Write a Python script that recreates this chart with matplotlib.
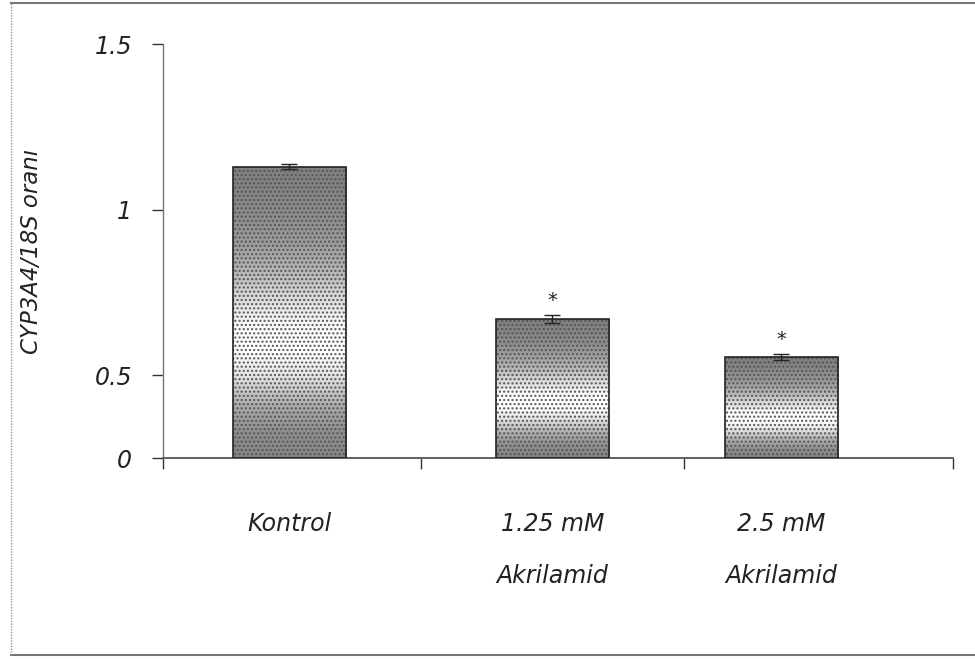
import numpy as np
import matplotlib
matplotlib.use("Agg")
import matplotlib.pyplot as plt
from matplotlib.patches import Rectangle
from matplotlib.lines import Line2D

# ── Données ────────────────────────────────────────────────
groupes = ['Kontrol', '1.25 mM\nAkrilamid', '2.5 mM\nAkrilamid']
valeurs = [1.13, 0.67, 0.555]
erreurs = [0.008, 0.012, 0.008]
etoiles = ['', '*', '*']
yticks = [0, 0.5, 1, 1.5]
ytick_labels = ['0', '0.5', '1', '1.5']

positions = [0, 1, 1.87]
largeur = 0.43

# échelle de l'original : zone 0-0.5 tassée de moitié
def vers_axe(y):
    y = np.asarray(y, dtype=float)
    return np.where(y >= 0.5, y, 0.5 - (0.5 - y) * 0.5)

def depuis_axe(t):
    t = np.asarray(t, dtype=float)
    return np.where(t >= 0.5, t, 0.5 - (0.5 - t) * 2.0)

plt.rcParams['font.family'] = ['DejaVu Sans']
fig = plt.figure(figsize=(9.75, 6.59), dpi=100)
ax = fig.add_axes([0.167, 0.305, 0.81, 0.628])
ax.set_yscale('function', functions=(vers_axe, depuis_axe))
ax.set_ylim(0, 1.5)
ax.set_xlim(-0.48, 2.52)

barres = ax.bar(positions, valeurs, width=largeur, color='none',
                edgecolor='#222222', linewidth=1.2, zorder=3)

# dégradé gris : sombre en haut et en bas, clair vers le milieu
profil = np.array([0.5, 0.52, 0.56, 0.62, 0.72, 0.86, 0.98, 1.0, 0.88, 0.68, 0.56, 0.52])
fig.canvas.draw()
inv = ax.transAxes.inverted()
for b, v in zip(barres, valeurs):
    x0, y0 = b.get_x(), 0
    x1, y1 = b.get_x() + b.get_width(), v
    (ax0, ay0), (ax1, ay1) = inv.transform(ax.transData.transform([(x0, y0), (x1, y1)]))
    t = np.linspace(0, 1, 200)
    grad = np.interp(t, np.linspace(0, 1, len(profil)), profil)[:, None]
    im = ax.imshow(grad, cmap='gray', vmin=0, vmax=1, aspect='auto',
                   extent=[ax0, ax1, ay0, ay1], transform=ax.transAxes,
                   origin='upper', zorder=2, interpolation='bilinear')
    im.set_clip_path(b)
    ax.add_patch(Rectangle((b.get_x(), 0), b.get_width(), v, fill=False,
                           hatch='....', edgecolor='#555555', linewidth=0, zorder=2.5))

ax.errorbar(positions, valeurs, yerr=erreurs, fmt='none', ecolor='#222222',
            elinewidth=1, capsize=6, capthick=1, zorder=4)

for p, v, e, s in zip(positions, valeurs, erreurs, etoiles):
    if s:
        ax.text(p, v + e + 0.045, s, ha='center', va='center', fontsize=14, color='#222222')

# axes
for c in ['top', 'right']:
    ax.spines[c].set_visible(False)
ax.spines['left'].set_color('#777777')
ax.spines['left'].set_linestyle((0, (1, 1)))
ax.spines['left'].set_linewidth(1)
ax.spines['bottom'].set_color('#555555')
ax.spines['bottom'].set_linewidth(1.3)

ax.set_yticks(yticks, ytick_labels)
ax.tick_params(axis='y', direction='out', length=8, width=1, color='#333333',
               pad=14, labelsize=17, labelcolor='#222222')
for lab in ax.get_yticklabels():
    lab.set_fontstyle('italic')

ax.set_xticks([-0.48, 0.5, 1.5, 2.52], ['', '', '', ''])
ax.tick_params(axis='x', direction='out', length=8, width=1, color='#333333')
ax.set_xticks(positions, groupes, minor=True)
ax.tick_params(axis='x', which='minor', length=0, pad=39, labelsize=17,
               labelcolor='#222222')
for lab in ax.get_xticklabels(minor=True):
    lab.set_fontstyle('italic')
    lab.set_linespacing(2.45)

ax.set_ylabel('CYP3A4/18S oranı', fontsize=16.5, fontstyle='italic',
              color='#222222')
ax.yaxis.set_label_coords(-0.152, 0.5)

# cadre extérieur : haut, bas et gauche en pointillé
fig.add_artist(Line2D([0.011, 1.0], [0.995, 0.995], transform=fig.transFigure,
                      color='#777777', linewidth=1.5))
fig.add_artist(Line2D([0.011, 1.0], [0.006, 0.006], transform=fig.transFigure,
                      color='#777777', linewidth=1.5))
fig.add_artist(Line2D([0.011, 0.011], [0.006, 0.995], transform=fig.transFigure,
                      color='#999999', linewidth=1, linestyle=(0, (1, 1))))

plt.savefig("out.png", dpi=100)
